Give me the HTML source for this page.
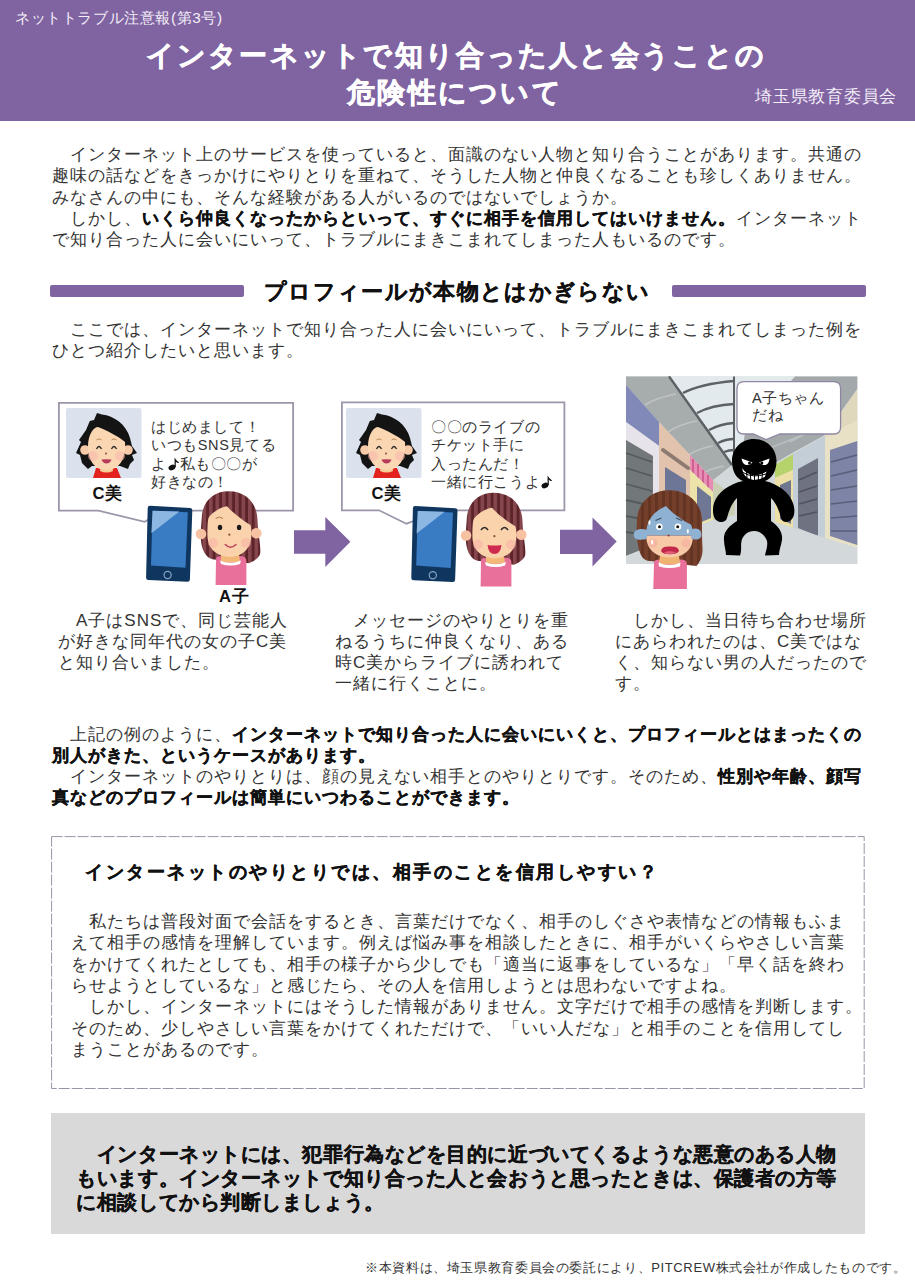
<!DOCTYPE html>
<html lang="ja"><head><meta charset="utf-8">
<style>
html,body{margin:0;padding:0;background:#fff;}
body{width:915px;height:1280px;position:relative;overflow:hidden;font-family:"Liberation Sans",sans-serif;color:#333;}
.ln{position:absolute;white-space:nowrap;}
.b18{font-size:17px;letter-spacing:1px;line-height:17px;}
.b179{font-size:17px;letter-spacing:1px;line-height:17px;}
.g20{font-size:19.5px;letter-spacing:0.56px;line-height:20px;font-weight:bold;color:#111;-webkit-text-stroke:0.35px #111}
b{font-weight:bold;color:#111;-webkit-text-stroke:0.35px #111}
.sk{-webkit-text-stroke:0.35px #111}
.skw{-webkit-text-stroke:0.6px #fff}
#hdr{position:absolute;left:0;top:0;width:915px;height:121px;background:#8064a2;}
.wt{position:absolute;color:#fff;white-space:nowrap;}
.bar{position:absolute;height:12px;background:#8064a2;border-radius:2px;}
#dbox{position:absolute;left:51px;top:836px;width:812px;height:251px;border:1px dashed #8e879c;}
.bt{position:absolute;z-index:2;white-space:nowrap;font-size:14.5px;letter-spacing:0.6px;line-height:18.5px;color:#333}
.nm{position:absolute;z-index:2;white-space:nowrap;font-size:16.6px;letter-spacing:1px;line-height:16px;font-weight:bold;color:#111}
#gbox{position:absolute;left:51px;top:1113px;width:814px;height:121px;background:#d9d9d9;}
</style></head><body>
<div id="hdr"></div>
<div class="wt" style="left:15px;top:10px;font-size:15.3px;letter-spacing:0.6px;line-height:16px;color:#f3eef8">ネットトラブル注意報(第3号)</div>
<div class="wt skw" style="left:145.5px;top:41px;font-size:28px;letter-spacing:2.28px;line-height:30px;font-weight:bold">インターネットで知り合った人と会うことの</div>
<div class="wt skw" style="left:347px;top:78px;font-size:28px;letter-spacing:2.3px;line-height:30px;font-weight:bold">危険性について</div>
<div class="wt" style="left:755px;top:87.5px;font-size:16.6px;letter-spacing:0.75px;line-height:17px;color:#f3eef8">埼玉県教育委員会</div>

<div class="bar" style="left:50px;top:285px;width:194px"></div>
<div class="bar" style="left:672px;top:285px;width:194px"></div>
<div class="ln sk" style="left:264px;top:281px;font-size:21.5px;letter-spacing:1.33px;line-height:22px;font-weight:bold;color:#111">プロフィールが本物とはかぎらない</div>

<svg style="position:absolute;left:0;top:0" width="915" height="1280"><rect x="51.6" y="836.6" width="812.6" height="251.9" fill="none" stroke="#9a94a6" stroke-width="1" stroke-dasharray="11 2"/></svg>
<div id="gbox"></div>
<div class="ln b18" style="left:52px;top:146.1px">　インターネット上のサービスを使っていると、面識のない人物と知り合うことがあります。共通の</div>
<div class="ln b18" style="left:52px;top:167.4px">趣味の話などをきっかけにやりとりを重ねて、そうした人物と仲良くなることも珍しくありません。</div>
<div class="ln b18" style="left:52px;top:188.7px">みなさんの中にも、そんな経験がある人がいるのではないでしょうか。</div>
<div class="ln b18" style="left:52px;top:210.0px">　しかし、<b>いくら仲良くなったからといって、すぐに相手を信用してはいけません。</b>インターネット</div>
<div class="ln b18" style="left:52px;top:231.3px">で知り合った人に会いにいって、トラブルにまきこまれてしまった人もいるのです。</div>
<div class="ln b18" style="left:52px;top:321.0px">　ここでは、インターネットで知り合った人に会いにいって、トラブルにまきこまれてしまった例を</div>
<div class="ln b18" style="left:52px;top:342.3px">ひとつ紹介したいと思います。</div>
<div class="ln b18" style="left:58px;top:611.5px">　A子はSNSで、同じ芸能人</div>
<div class="ln b18" style="left:58px;top:632.8px">が好きな同年代の女の子C美</div>
<div class="ln b18" style="left:58px;top:654.1px">と知り合いました。</div>
<div class="ln b18" style="left:335px;top:611.5px">　メッセージのやりとりを重</div>
<div class="ln b18" style="left:335px;top:632.8px">ねるうちに仲良くなり、ある</div>
<div class="ln b18" style="left:335px;top:654.1px">時C美からライブに誘われて</div>
<div class="ln b18" style="left:335px;top:675.4px">一緒に行くことに。</div>
<div class="ln b18" style="left:615px;top:611.5px">　しかし、当日待ち合わせ場所</div>
<div class="ln b18" style="left:615px;top:632.8px">にあらわれたのは、C美ではな</div>
<div class="ln b18" style="left:615px;top:654.1px">く、知らない男の人だったので</div>
<div class="ln b18" style="left:615px;top:675.4px">す。</div>
<div class="ln b18" style="left:52px;top:725.5px">　上記の例のように、<b>インターネットで知り合った人に会いにいくと、プロフィールとはまったくの</b></div>
<div class="ln b18" style="left:52px;top:746.8px"><b>別人がきた、というケースがあります。</b></div>
<div class="ln b18" style="left:52px;top:768.1px">　インターネットのやりとりは、顔の見えない相手とのやりとりです。そのため、<b>性別や年齢、顔写</b></div>
<div class="ln b18" style="left:52px;top:789.4px"><b>真などのプロフィールは簡単にいつわることができます。</b></div>
<div class="ln b179" style="left:71px;top:913.1px">　私たちは普段対面で会話をするとき、言葉だけでなく、相手のしぐさや表情などの情報もふま</div>
<div class="ln b179" style="left:71px;top:934.4px">えて相手の感情を理解しています。例えば悩み事を相談したときに、相手がいくらやさしい言葉</div>
<div class="ln b179" style="left:71px;top:955.7px">をかけてくれたとしても、相手の様子から少しでも「適当に返事をしているな」「早く話を終わ</div>
<div class="ln b179" style="left:71px;top:977.0px">らせようとしているな」と感じたら、その人を信用しようとは思わないですよね。</div>
<div class="ln b179" style="left:71px;top:998.3px">　しかし、インターネットにはそうした情報がありません。文字だけで相手の感情を判断します。</div>
<div class="ln b179" style="left:71px;top:1019.6px">そのため、少しやさしい言葉をかけてくれただけで、「いい人だな」と相手のことを信用してし</div>
<div class="ln b179" style="left:71px;top:1040.9px">まうことがあるのです。</div>
<div class="ln g20" style="left:76.3px;top:1143.7px">　インターネットには、犯罪行為などを目的に近づいてくるような悪意のある人物</div>
<div class="ln g20" style="left:76.3px;top:1167.8px">もいます。インターネットで知り合った人と会おうと思ったときは、保護者の方等</div>
<div class="ln g20" style="left:76.3px;top:1191.9px">に相談してから判断しましょう。</div>

<div class="ln sk" style="left:85px;top:862px;font-size:18.3px;letter-spacing:2.5px;line-height:19px;font-weight:bold;color:#111">インターネットのやりとりでは、相手のことを信用しやすい？</div>

<div class="ln" style="left:365px;top:1261px;font-size:13px;letter-spacing:0.63px;line-height:14px;color:#333">※本資料は、埼玉県教育委員会の委託により、PITCREW株式会社が作成したものです。</div>
<svg width="915" height="1280" viewBox="0 0 915 1280" style="position:absolute;left:0;top:0;z-index:1">
<defs>
  
  <pattern id="hairC" width="7" height="20" patternUnits="userSpaceOnUse">
    <rect width="7" height="20" fill="#74402c"/><rect x="4" width="3" height="20" fill="#653523"/>
  </pattern>
  <g id="girlbase">
    <path d="M228.6 491.3 C212 491.3 202 503 201.7 518.5 C201 530 199 542 204 552 C207 557 210 559 214 559.5 L249 563.2 C254 561 259 558 260.2 553.4 C261 545 258 535 257.5 520 C257 503 246 491.3 228.6 491.3 Z" fill="url(#hairA)"/>
    <path d="M216 559 Q216 556 222 555.9 L240 555.9 Q246.4 556 246.4 561 V585.1 H215.6 Z" fill="#e8709b"/>
    <path d="M221 555 L239 555 L240 561 Q230.5 564 221 561 Z" fill="#f2b978"/>
    <path d="M220 560.5 Q230.5 565 241 560.5 L240 564 Q230.5 567 221 564 Z" fill="#fff"/>
    <circle cx="201" cy="534" r="5.3" fill="#f7c2a2"/>
    <circle cx="256.3" cy="533.2" r="5.3" fill="#f7c2a2"/>
    <path d="M207.4 534.7 C207.4 524 208 518 209 516.9 C215 510 222 507 227 506.3 C232 512 242 520 250.5 525 C251.5 529 251.3 532 251.3 534.7 C251.3 548 243 556.7 230.2 556.7 C216 556.7 207.4 548 207.4 534.7 Z" fill="#fad3ad"/>
    <circle cx="213" cy="543" r="5" fill="#f8aea4" opacity="0.55"/>
    <circle cx="246" cy="543" r="5" fill="#f8aea4" opacity="0.55"/>
    <circle cx="229.4" cy="534.7" r="1.1" fill="#8a4a3a"/>
  </g>
  <pattern id="hairA" width="6.5" height="20" patternUnits="userSpaceOnUse" x="1">
    <rect width="6.5" height="20" fill="#85474d"/><rect x="3.6" width="2.9" height="20" fill="#5c2329"/>
  </pattern>
  <g id="avatar">
    <rect x="0" y="0" width="75.5" height="70" rx="2" fill="#dbe2ee"/>
    <path d="M31 5 L36 6.5 C48 8 60 16 64 30 L66 38 L71 45 L66 47 L68 52 L64 56 L62 61 L54 58 L26 58 L22 61 L16 55 L14 47 L10 45 L15 34 L13 32 L20 22 L23.8 13 L28 12 Z" fill="#141414"/>
    <path d="M30 60 L51 60 L55 70 L27 70 Z" fill="#e3221f"/>
    <path d="M35 57 L46 57 L47 63 Q40.5 66 34 63 Z" fill="#f3cc98"/>
    <circle cx="19" cy="42" r="4.8" fill="#f8cba8"/>
    <circle cx="62" cy="42" r="4.8" fill="#f8cba8"/>
    <path d="M22 38 C22 26 28 19 32 19 C40 22 52 28 59 34 C60 50 54 62 40.5 62 C28 62 22 52 22 38 Z" fill="#fad7b2"/>
    <circle cx="27" cy="48" r="5" fill="#f7b6ac" opacity="0.55"/>
    <circle cx="54" cy="48" r="5" fill="#f7b6ac" opacity="0.55"/>
    <path d="M30.5 32 Q33 29.5 35.5 32 M45.5 32 Q48 29.5 50.5 32" stroke="#b88a50" stroke-width="1" fill="none"/>
    <path d="M30.5 41 Q33 36 35.5 41 M45.5 41 Q48 36 50.5 41" stroke="#2a2a2a" stroke-width="1.4" fill="none"/>
    <circle cx="40" cy="45.5" r="0.9" fill="#7a4030"/>
    <path d="M35.5 51.5 Q40.5 51 45.5 51.5 Q44 55.5 40.5 55.5 Q37 55.5 35.5 51.5 Z" fill="#b83a5a"/>
  </g>
  <g id="phone">
    <path d="M150 505.7 L190 508 Q192.5 508.2 192.3 510.5 L189.9 579.5 Q189.8 581.9 187.4 581.8 L148.5 580.1 Q146 580 146.1 577.5 L147.7 508 Q147.8 505.6 150 505.7 Z" fill="#0e365f"/>
    <path d="M152.6 510.7 L187.8 512.2 L185.5 567.7 L151 565.4 Z" fill="#3a7cc4"/>
    <path d="M152.6 510.7 L179.4 511.6 L151.4 533.3 Z" fill="#8db7e3"/>
    <circle cx="167.6" cy="575" r="3.6" fill="none" stroke="#8aa3c0" stroke-width="1.2"/>
  </g>
</defs>

<!-- bubble 1 -->
<path d="M58.9 402.9 H293.1 V510.6 H160 L148.5 519.5 L144.7 521.8 L98.4 510.6 H58.9 Z" fill="#fff" stroke="#9d95aa" stroke-width="1.8"/>
<use href="#avatar" x="66" y="408"/>
<!-- phone 1 -->
<use href="#phone"/>
<!-- girl A 1 -->
<use href="#girlbase"/>
<path d="M215.6 518.5 Q219.3 515.5 223 518.5" stroke="#b07a45" stroke-width="1" fill="none"/>
<ellipse cx="220" cy="527.4" rx="2.2" ry="2.7" fill="#1a1a1a"/>
<ellipse cx="239.1" cy="527.4" rx="2.2" ry="2.7" fill="#1a1a1a"/>
<path d="M225.3 544.5 Q230.5 550 235.9 544.5" stroke="#c2405a" stroke-width="1.6" fill="none" stroke-linecap="round"/>
<!-- arrows -->
<path d="M294 530.2 H325.3 V517 L350.4 541.8 L325.3 566.9 V553.8 H294 Z" fill="#8064a2"/>
<path d="M560 529.8 H592.5 V517.4 L616.7 541.6 L592.5 566.6 V554 H560 Z" fill="#8064a2"/>

<!-- bubble 2 -->
<path d="M341.9 402.4 H564.4 V510.3 H430 L413.5 521 L406.5 523.7 L379 510.3 H341.9 Z" fill="#fff" stroke="#9d95aa" stroke-width="1.8"/>
<use href="#avatar" x="346" y="408"/>
<use href="#phone" x="265.2" y="0.2"/>
<!-- girl A 2 -->
<g transform="translate(265 1.5)">
<use href="#girlbase"/>
<path d="M216 528.5 Q219.5 523.5 223 528.5 M236 528.5 Q239.5 523.5 243 528.5" stroke="#2a2a2a" stroke-width="1.6" fill="none"/>
<path d="M222.5 543.5 Q229.5 544.5 236.5 543.5 Q235.5 552.5 229.5 552.5 Q223.5 552.5 222.5 543.5 Z" fill="#cf2a4f"/>
</g>
<!-- scene 3 -->
<g>
  <rect x="626" y="376.4" width="231.3" height="187.6" fill="#d3d9db"/>
  <!-- skylight -->
  <path d="M669 376.4 H795 L745 434 L740 462 L732 465 Z" fill="#e3eaed"/>
  <!-- left ceiling -->
  <path d="M626 376.4 H669 L732 465 L713 480 L690 455 L659 422 L626 385 Z" fill="#a7acac"/>
  <path d="M645 405 Q655 398 676 394 M668 432 Q680 424 697 421 M688 455 Q700 448 713 446 M703 473 Q712 468 724 466" stroke="#bfc4c3" stroke-width="1.6" fill="none"/>
  <path d="M669 376.4 L732 465" stroke="#5b6164" stroke-width="2.5"/>
  <path d="M683 393 Q700 384 734 381 M697 413 Q712 405 734 404 M709 430 Q720 424 734 423 M718 443 Q726 439 734 439 M724 452 Q729 450 734 450" stroke="#5b6164" stroke-width="2.3" fill="none"/>
  <path d="M734 376.4 V455" stroke="#5b6164" stroke-width="2"/>
  <!-- right ceiling -->
  <path d="M795 376.4 H857.3 V389 L823.7 435.7 L792.5 452.7 L770 466 L754 470 L740 462 L745 434 Z" fill="#a3a8aa"/><path d="M760 452 L800 436 M790 442 L830 420" stroke="#b9bec0" stroke-width="1.6"/>
  <!-- left walls -->
  <path d="M626 385 L659 422 V446 L626 422 Z" fill="#8189b8"/>
  <path d="M626 422 L659 446 V540 L626 560 Z" fill="#e6e3ea"/>
  <path d="M626 440 L653 456 V545 L626 556 Z" fill="#72777a"/>
  <path d="M626 453 L652 462 M626 468 L652 476 M626 484 L652 491 M626 500 L652 506 M626 516 L652 521 M626 532 L652 536" stroke="#555a5d" stroke-width="1.8"/>
  <path d="M659 422 L690 455 V528 L659 540 Z" fill="#e2c3ae"/>
  <path d="M663 450 L688 468" stroke="#8d7a70" stroke-width="4" stroke-linecap="round"/>
  <path d="M665 467 L686 480 V520 L665 528 Z" fill="#6e7698"/>
  <path d="M690 455 L713 480 V492 L690 470 Z" fill="#e78db4"/><path d="M693 459 V473 M698 464 V478 M703 470 V484 M708 475 V488" stroke="#c9578a" stroke-width="1.6"/>
  <path d="M690 470 L713 492 V520 L690 528 Z" fill="#ece3a8"/>
  <path d="M697 486 L711 497 V518 L697 524 Z" fill="#6f7794"/>
  <path d="M713 480 L735 498 V515 L713 520 Z" fill="#c9ceb5"/>
  <!-- right walls -->
  <path d="M857.3 389 V440 L825 451 V435.7 Z" fill="#e0d8bc"/>
  <path d="M825 437 L857.3 420 V548 L825 538 Z" fill="#e8e1c5"/>
  <path d="M830 450 L857.3 441 V545 L830 536 Z" fill="#7d84a6"/>
  <path d="M831 462 L857 455 M831 476 L857 470 M831 490 L857 486 M831 504 L857 501 M831 518 L857 516 M831 531 L857 531" stroke="#595f7a" stroke-width="1.6"/>
  <path d="M793 454 L825 436 V545 L793 531 Z" fill="#c3ced6"/>
  <path d="M798 469 L818 458 V536 L798 528 Z" fill="#6f7280"/>
  <path d="M799 480 L817 472 M799 492 L817 486 M799 504 L817 499 M799 516 L817 512" stroke="#50535e" stroke-width="1.5"/>
  <path d="M775 465 L793 454 V470 L775 478 Z" fill="#b6d36b"/>
  <path d="M775 478 L793 470 V531 L775 522 Z" fill="#ede0a6"/>
  <path d="M780 485 L791 480 V524 L780 519 Z" fill="#6f7690"/>
  <!-- floor shade -->
  <path d="M626 556 L735 515 L775 522 L857.3 548 V564 H626 Z" fill="#d3d9db"/>
  <!-- bubble 3 -->
  <path d="M744 381.7 H833.6 Q840.6 381.7 840.6 388.7 V427 Q840.6 434 833.6 434 H780 L766 439.5 L753.4 434 H744 Q737 434 737 427 V388.7 Q737 381.7 744 381.7 Z" fill="#fff" stroke="#8f86a3" stroke-width="1.3"/>
  <!-- man -->
  <path fill="#000" d="M754 439 C767 439 776.5 449 776.5 461 C776.5 472 771 479 765 481 C778 484 789 492 793 503 C795 509 795 515 792 519 C789 523 782 523 781 518 C779 510 776 503 771 498 L771 521 C778 526 783 532 782 540 C781 546 779 550 779 555 L765 555.5 C766 550 768 546 767 541 C765 535 760 531 754 531 C748 531 743 535 741.5 541 C740.5 546 742 550 740 555.5 L726 555 C726 550 724 546 724 540 C723 532 729 526 737 521 L737 498 C732 503 729 510 727 518 C726 523 719 523 716 520 C713 517 712 510 714 503 C718 492 729 484 743 481 C737 479 732 472 732 461 C732 449 741 439 754 439 Z"/>
  <path d="M741.5 458.5 L752.5 462.5 Q750 465.5 746 465 Q742.5 464 741.5 458.5 Z M769.5 458.5 L759 462.5 Q761.5 465.5 765.5 465 Q769 464 769.5 458.5 Z" fill="#fff"/>
  <circle cx="749.5" cy="463" r="1.5" fill="#000"/><circle cx="761.8" cy="463" r="1.5" fill="#000"/>
  <path d="M742 468 Q746 474 754 475.5 Q761 475 766.5 471.5 L765 476.5 Q760 480 754 480 Q746.5 479 743.5 473.5 Z" fill="#fff"/>
  <path d="M746.5 471.5 L747 478 M750.5 474 L750.7 480 M754.5 475 V480.5 M758.5 474.5 L758.3 480 M762.5 473 L762 478.5 M743 472.5 Q753 478.5 766 474" stroke="#000" stroke-width="1" fill="none"/>
  <!-- girl 3 -->
  <path d="M669.2 490.2 C652 490.2 637.5 502 637 520 C636.4 531 636.5 545 641 555 C643 559 646 561 650 561 L696.5 566 C700 562 703 556 702.5 548 C702 540 702 531 702 520 C701.5 502 687 490.2 669.2 490.2 Z" fill="url(#hairC)"/>
  <path d="M654 563 Q654 559.6 660 559.6 L680 559.6 Q686.9 559.6 686.9 564 V589.1 H653.3 Z" fill="#e8709b"/>
  <path d="M660 556 L679 556 L680 563 Q669.5 566 659 563 Z" fill="#f0b472"/>
  <path d="M658.5 562.5 Q669.5 567.5 680.5 562.5 L680 566.5 Q669.5 569.5 659 566.5 Z" fill="#fff"/>
  <path d="M646.2 535.6 C646.2 550 656 557.4 669.7 557.4 C684 557.4 693 550 693 535.6 Z" fill="#f7c9a6"/>
  <path d="M646.2 535.6 C646 522 652 512 665.9 506 C672 513 682 520 691 524.6 C692.5 528 693 532 693 535.6 Z" fill="#8fb2d3"/>
  <path d="M647 530 C640 527.5 633.5 530 633.7 535 C634 540 641 541 647 538.5 Z M692 529 C699 527 701.4 531 701.4 534.5 C701.4 539 697 541 691 538.5 Z" fill="#8fb2d3"/>
  <circle cx="653" cy="543" r="4.5" fill="#f6a8a0" opacity="0.5"/>
  <circle cx="686" cy="543" r="4.5" fill="#f6a8a0" opacity="0.5"/>
  <ellipse cx="649.5" cy="522.5" rx="1" ry="2.3" fill="#fff"/>
  <ellipse cx="687.8" cy="531.2" rx="1" ry="2.3" fill="#fff"/>
  <ellipse cx="652.2" cy="542" rx="1" ry="2.5" fill="#fff"/>
  <circle cx="659.3" cy="526.8" r="3.3" fill="#fff"/><circle cx="659.5" cy="526.8" r="1.5" fill="#111"/>
  <circle cx="677.9" cy="526.8" r="3.3" fill="#fff"/><circle cx="677.7" cy="526.8" r="1.5" fill="#111"/>
  <path d="M655.5 520.5 L661.5 518 M676 518 L682 520.5" stroke="#3e4b5a" stroke-width="1.1" fill="none"/>
  <circle cx="668.6" cy="535.6" r="1" fill="#8a3a30"/>
  <path d="M661 551 C662 547 665 546.5 670 546.5 C675 546.5 678 547 679 551 C677 554 673 554.2 670 554.2 C666 554.2 663 554 661 551 Z" fill="#c2284a"/>
  <path d="M664 552.5 Q670 550 676 552.5 Q673 554 670 554 Q666 554 664 552.5 Z" fill="#e0607a"/>
</g>
</svg>
<div class="bt" style="left:151px;top:417.5px">はじめまして！<br>いつもSNS見てる<br>よ<svg width="13" height="15" style="vertical-align:-2px" viewBox="0 0 13 15"><ellipse cx="5" cy="11.5" rx="3.6" ry="2.7" transform="rotate(-20 5 11.5)" fill="#111"/><path d="M7.6 11 V1.5 Q9 4.5 12 6.5 Q11 8 8.8 5.5 V11 Z" fill="#111"/></svg>私も〇〇が<br>好きなの！</div>
<div class="bt" style="left:431px;top:417.5px">〇〇のライブの<br>チケット手に<br>入ったんだ！<br>一緒に行こうよ<svg width="13" height="15" style="vertical-align:-2px" viewBox="0 0 13 15"><ellipse cx="5" cy="11.5" rx="3.6" ry="2.7" transform="rotate(-20 5 11.5)" fill="#111"/><path d="M7.6 11 V1.5 Q9 4.5 12 6.5 Q11 8 8.8 5.5 V11 Z" fill="#111"/></svg></div>
<div class="bt" style="left:752px;top:389.5px;line-height:17.5px">A子ちゃん<br>だね</div>
<div class="nm" style="left:92.5px;top:486px">C美</div>
<div class="nm" style="left:371.5px;top:486px">C美</div>
<div class="nm" style="left:219px;top:589px">A子</div>

</body></html>
